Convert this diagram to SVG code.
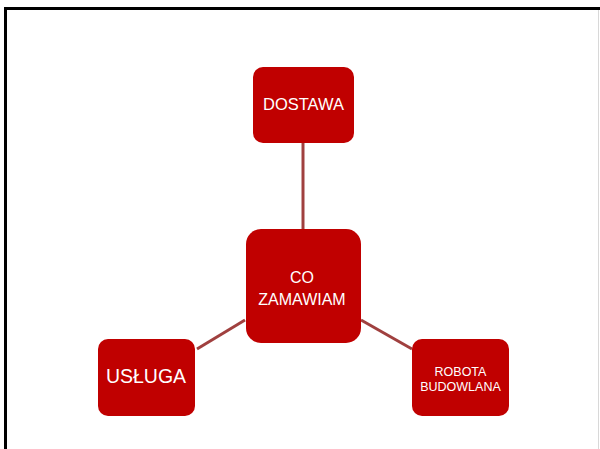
<svg xmlns="http://www.w3.org/2000/svg" width="600" height="449" viewBox="0 0 600 449">
<style>
.node{fill:#c00000;}
.lbl{fill:#ffffff;font-family:"Liberation Sans",Arial,sans-serif;text-anchor:middle;}
.conn{stroke:#a0403f;stroke-width:3;fill:none;}
</style>
<rect x="0" y="0" width="600" height="449" fill="#ffffff"/>
<rect x="5.5" y="8.5" width="597" height="445" fill="none" stroke="#000000" stroke-width="3"/>
<line x1="598.5" y1="10" x2="598.5" y2="449" stroke="#d8d8d8" stroke-width="1"/>
<g id="connectors">
<line class="conn" x1="303" y1="143" x2="303" y2="229"/>
<line class="conn" x1="245" y1="320" x2="197" y2="349"/>
<line class="conn" x1="361" y1="320" x2="412" y2="349"/>
</g>
<g id="dostawa">
<rect class="node" x="253" y="67" width="101" height="76" rx="10"/>
<text class="lbl" x="303.5" y="110" font-size="16.5">DOSTAWA</text>
</g>
<g id="co-zamawiam">
<rect class="node" x="246" y="229" width="115" height="114" rx="15"/>
<text class="lbl" x="302" y="282.5" font-size="16">CO</text>
<text class="lbl" x="302" y="304.5" font-size="16">ZAMAWIAM</text>
</g>
<g id="robota-budowlana">
<rect class="node" x="412" y="339" width="97" height="77" rx="10"/>
<text class="lbl" x="460.5" y="376" font-size="12.5">ROBOTA</text>
<text class="lbl" x="460.5" y="391" font-size="12.5">BUDOWLANA</text>
</g>
<g id="usluga">
<rect class="node" x="98" y="339" width="97" height="77" rx="10"/>
<text class="lbl" x="146" y="383" font-size="19.5">USŁUGA</text>
</g>
</svg>
